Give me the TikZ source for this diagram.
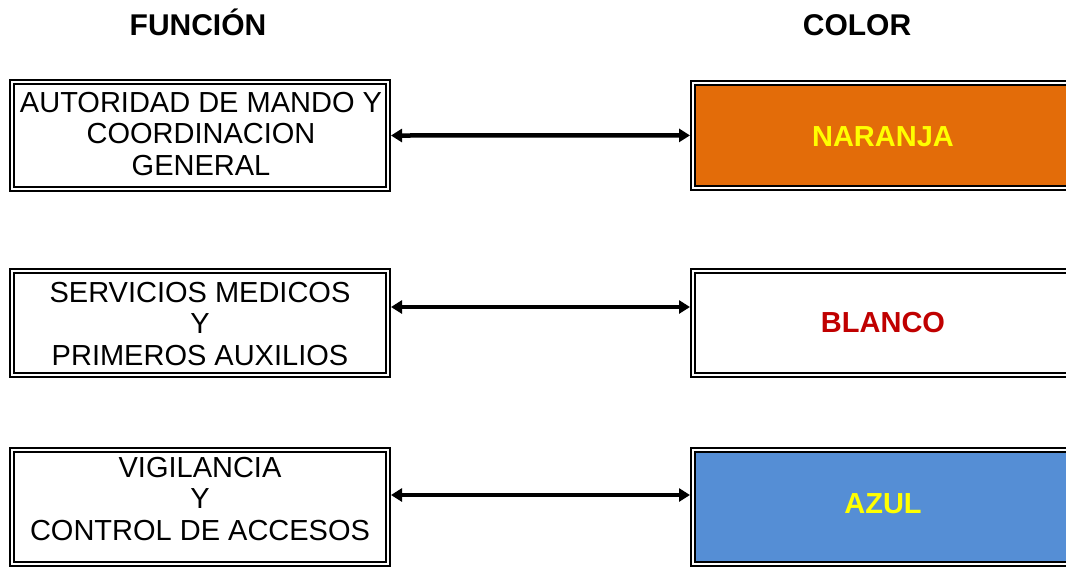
\documentclass[tikz,border=0pt]{standalone}
\usepackage{fontspec}
\setmainfont{Liberation Sans}
\usetikzlibrary{arrows.meta, positioning}
\definecolor{boxorange}{HTML}{E36C09}
\definecolor{boxblue}{HTML}{558ED5}
\definecolor{txtred}{HTML}{C00000}
\definecolor{txtyellow}{HTML}{FFFF00}

\tikzset{
  dblbox/.style={draw=black, line width=2pt, double=white, double distance=2pt,
                 outer sep=3pt, inner sep=0pt},
  funcbox/.style={dblbox, minimum width=376pt},
  colorbox/.style={dblbox, minimum width=380pt},
  functext/.style={align=center, inner sep=0pt, font=\fontsize{29}{31.5}\selectfont},
  colortext/.style={inner sep=0pt, font=\fontsize{29}{31.5}\selectfont\bfseries},
  header/.style={inner sep=0pt, font=\fontsize{30}{32}\selectfont\bfseries},
  link/.style={line width=4.5pt, {Triangle[length=11pt,width=13pt]}-{Triangle[length=11pt,width=13pt]}}
}

\begin{document}
\begin{tikzpicture}[x=1pt, y=-1pt]
    \useasboundingbox (0,0) rectangle (1066,566);

    % Headers
    \node[header, anchor=base] (hfunc) at (198,35) {FUNCIÓN};
    \node[header, anchor=base] (hcolor) at (857,35) {COLOR};

    % Function boxes
    \node[funcbox, minimum height=107pt] (f1) at (200,135.5) {};
    \node[funcbox, minimum height=104pt] (f2) at (200,323) {};
    \node[funcbox, minimum height=114pt] (f3) at (200,507) {};

    % Colour boxes
    \node[colorbox, fill=boxorange, minimum height=105pt] (c1) at (883,135.4) {};
    \node[colorbox, fill=white, minimum height=104pt] (c2) at (883,323) {};
    \node[colorbox, fill=boxblue, minimum height=114pt] (c3) at (883,507) {};

    % Texts (base = last line)
    \node[functext, anchor=base] (f1t) at (201,175) {AUTORIDAD DE MANDO Y\\COORDINACION\\GENERAL};
    \node[functext, anchor=base] (f2t) at (200,365) {SERVICIOS MEDICOS\\Y\\PRIMEROS AUXILIOS};
    \node[functext, anchor=base] (f3t) at (200,540) {VIGILANCIA\\Y\\CONTROL DE ACCESOS};
    \node[colortext, text=txtyellow, anchor=base] (c1t) at (883,146) {NARANJA};
    \node[colortext, text=txtred, anchor=base] (c2t) at (883,332) {BLANCO};
    \node[colortext, text=txtyellow, anchor=base] (c3t) at (883,513) {AZUL};

    % Links
    \draw[link] (f1.east) -- (c1.west);
    \draw[link] ([yshift=16pt]f2.east) -- ([yshift=16pt]c2.west);
    \draw[link] ([yshift=12pt]f3.east) -- ([yshift=12pt]c3.west);
\end{tikzpicture}
\end{document}
